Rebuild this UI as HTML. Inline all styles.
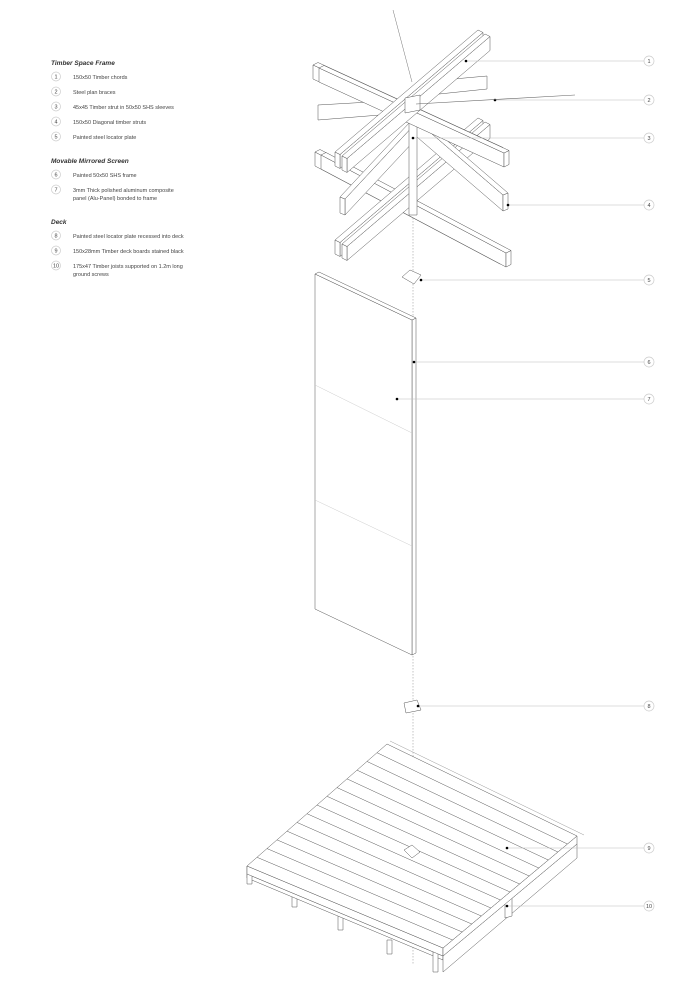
<!DOCTYPE html>
<html><head><meta charset="utf-8"><style>
html,body{margin:0;padding:0;background:#fff;}
body{width:700px;height:991px;position:relative;overflow:hidden;font-family:"Liberation Sans",Arial,sans-serif;}
svg{position:absolute;left:0;top:0;}
</style></head><body>
<svg id="s" width="700" height="991" viewBox="0 0 700 991" xmlns="http://www.w3.org/2000/svg">
<g font-family="Liberation Sans, Arial, sans-serif" fill="#333">
<text x="51" y="65" font-size="6.5" font-weight="bold" font-style="italic">Timber Space Frame</text>
<text x="51" y="163" font-size="6.5" font-weight="bold" font-style="italic">Movable Mirrored Screen</text>
<text x="51" y="224" font-size="6.5" font-weight="bold" font-style="italic">Deck</text>
<g font-size="5.5" fill="#444">
<text x="73" y="79">150x50 Timber chords</text>
<text x="73" y="94">Steel plan braces</text>
<text x="73" y="109">45x45 Timber strut in 50x50 SHS sleeves</text>
<text x="73" y="124">150x50 Diagonal timber struts</text>
<text x="73" y="139">Painted steel locator plate</text>
<text x="73" y="177">Painted 50x50 SHS frame</text>
<text x="73" y="192">3mm Thick polished aluminum composite</text>
<text x="73" y="200">panel (Alu-Panel) bonded to frame</text>
<text x="73" y="238">Painted steel locator plate recessed into deck</text>
<text x="73" y="253">150x28mm Timber deck boards stained black</text>
<text x="73" y="268">175x47 Timber joists supported on 1.2m long</text>
<text x="73" y="276">ground screws</text>
</g>
</g>
<g id="legc"></g>
<g id="draw" fill="#fff" stroke="#555" stroke-width="0.5" stroke-linejoin="round"></g>
<g id="lead"></g>
</svg>
<script>
var NS="http://www.w3.org/2000/svg";
function el(p,t,a){var e=document.createElementNS(NS,t);for(var k in a)e.setAttribute(k,a[k]);p.appendChild(e);return e;}
var D=document.getElementById('draw'),L=document.getElementById('lead'),LC=document.getElementById('legc');
function poly(pts,extra){var a={points:pts.map(function(p){return p[0]+','+p[1]}).join(' ')};for(var k in extra)a[k]=extra[k];return el(D,'polygon',a);}
function line(x1,y1,x2,y2,a){a=a||{};a.x1=x1;a.y1=y1;a.x2=x2;a.y2=y2;if(!a.stroke)a.stroke='#555';if(!a['stroke-width'])a['stroke-width']=0.5;return el(D,'line',a);}
function dn(p,h){return [p[0],p[1]+h];}
// P = visible end (end face drawn there)
function beam(P,Q,w,h){
 var C=[Q[0]+w[0],Q[1]+w[1]],Dd=[P[0]+w[0],P[1]+w[1]];
 // side face: hang from lower edge
 if(w[1]>0) poly([Dd,C,dn(C,h),dn(Dd,h)]); else poly([P,Q,dn(Q,h),dn(P,h)]);
 poly([P,Dd,dn(Dd,h),dn(P,h)]);
 poly([P,Q,C,Dd]);
}
var ly=[77,92,107,122,137,175,190,236,251,266];
ly.forEach(function(y,i){el(LC,'circle',{cx:56,cy:y-0.5,r:4.5,fill:'#fff',stroke:'#ccc','stroke-width':0.7});var t=el(LC,'text',{x:56,y:y+1.5,'font-size':5.5,'text-anchor':'middle',fill:'#444','font-family':'Liberation Sans, Arial, sans-serif'});t.textContent=i+1;});
line(413,215,413,965,{'stroke-dasharray':'1.5,1.5',stroke:'#888'});
line(393,10,412,82,{stroke:'#777'});
// lower beams
beam([500,250],[315,152],[5,-2.5],14);beam([506,253],[321,155],[5,-2.5],14);
beam([335,240],[478,118],[5,2.5],14);beam([342,244],[485,122],[5,2.5],14);
// braces
poly([[318,105],[405,100],[405,113],[318,120]]);
poly([[420,82],[487,76],[487,89],[420,96]]);
// diagonal struts
beam([340,197],[410,122],[5,2],16);
beam([503,195],[410,115],[5,-2],16);
poly([[409,118],[417,118],[417,215],[409,215]]);
// upper \ chord
beam([498,150],[313,65],[5,-2.5],14);beam([504,153],[319,68],[5,-2.5],14);
// upper / chord
beam([335,152],[478,30],[5,2.5],14);beam([342,156],[485,34],[5,2.5],14);
poly([[405,98],[420,95],[420,110],[405,113]]);
// locator plate 5
poly([[402,277],[410,270],[421,275],[414,284]]);
// screen panel
poly([[412,320],[416,318],[416,653],[412,655]]);
poly([[315,274],[412,320],[412,655],[315,609]]);
poly([[315,274],[319,272],[416,318],[412,320]]);
line(315,385,412,433,{stroke:'#ccc'});line(315,500,412,546,{stroke:'#ccc'});
poly([[404,703],[417,700],[421,710],[406,713]]);
// deck
var B=[387,744],R=[577,836],F=[443,948],Lf=[247,866];
[[292,893],[338,916],[387,940]].forEach(function(p){poly([[p[0],p[1]],[p[0]+5,p[1]],[p[0]+5,p[1]+14],[p[0],p[1]+14]]);});
poly([[247,874],[443,956],[443,960],[247,878]]);
poly([[247,866],[252,866],[252,884],[247,884]]);
poly([[433,952],[438,952],[438,972],[433,972]]);
poly([[443,956],[577,844],[577,858],[443,972]]);
poly([[505,900],[512,896],[512,916],[505,918]]);
poly([Lf,F,[F[0],F[1]+8],[Lf[0],Lf[1]+8]]);
poly([F,R,[R[0],R[1]+8],[F[0],F[1]+8]]);
poly([B,R,F,Lf]);
for(var i=1;i<14;i++){var t=i/14;var a=[Lf[0]+(B[0]-Lf[0])*t,Lf[1]+(B[1]-Lf[1])*t],b=[F[0]+(R[0]-F[0])*t,F[1]+(R[1]-F[1])*t];line(a[0],a[1],b[0],b[1]);}
line(390,741,584,835,{stroke:'#999'});
poly([[404,850],[412,845],[420,852],[412,858]]);
var cs=[[466,61,61],[495,100,100],[413,138,138],[508,205,205],[421,280,280],[414,362,362],[397,399,399],[418,706,706],[507,848,848],[507,906,906]];
cs.forEach(function(c,i){el(L,'line',{x1:c[0],y1:c[1],x2:644,y2:c[2],stroke:'#bbb','stroke-width':0.6});el(L,'circle',{cx:c[0],cy:c[1],r:1.3,fill:'#000'});el(L,'circle',{cx:649,cy:c[2],r:5,fill:'#fff',stroke:'#ccc','stroke-width':0.7});var t=el(L,'text',{x:649,y:c[2]+2,'font-size':5.5,'text-anchor':'middle',fill:'#444','font-family':'Liberation Sans, Arial, sans-serif'});t.textContent=i+1;});
el(L,'line',{x1:416,y1:104,x2:575,y2:95,stroke:'#666','stroke-width':0.6});
</script>
</body></html>
